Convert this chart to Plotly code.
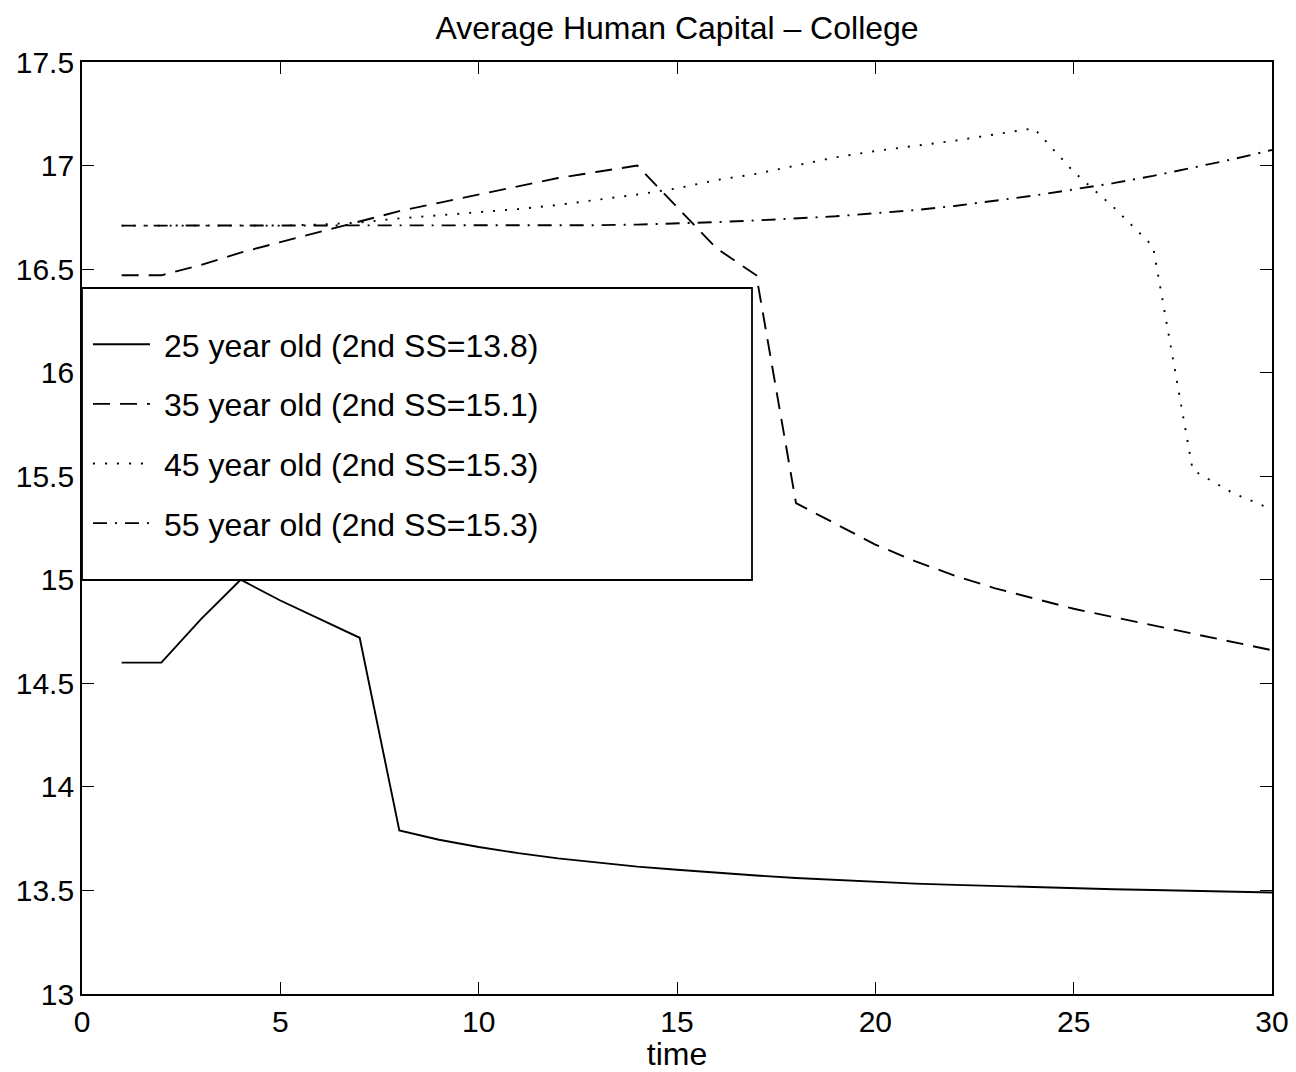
import plotly.graph_objects as go

time = list(range(1, 31))

age25 = [14.60, 14.60, 14.81, 15.00, 14.90, 14.81, 14.72, 13.79, 13.745, 13.71,
         13.68, 13.655, 13.635, 13.615, 13.60, 13.585, 13.572, 13.56, 13.55, 13.54,
         13.533, 13.527, 13.521, 13.516, 13.511, 13.506, 13.502, 13.498, 13.494, 13.49]

age35 = [16.47, 16.47, 16.52, 16.58, 16.63, 16.68, 16.73, 16.78, 16.82, 16.86,
         16.90, 16.94, 16.97, 17.00, 16.80, 16.60, 16.47, 15.37, 15.27, 15.17,
         15.09, 15.02, 14.96, 14.91, 14.86, 14.82, 14.78, 14.74, 14.70, 14.66]

age45 = [16.71, 16.71, 16.71, 16.71, 16.71, 16.715, 16.725, 16.745, 16.76, 16.775,
         16.79, 16.81, 16.835, 16.86, 16.89, 16.93, 16.96, 17.00, 17.04, 17.07,
         17.095, 17.12, 17.15, 17.18, 16.97, 16.80, 16.61, 15.53, 15.42, 15.34]

age55 = [16.71, 16.71, 16.71, 16.71, 16.71, 16.71, 16.71, 16.71, 16.71, 16.71,
         16.71, 16.71, 16.712, 16.715, 16.72, 16.727, 16.735, 16.745, 16.755, 16.77,
         16.785, 16.805, 16.83, 16.855, 16.885, 16.915, 16.95, 16.99, 17.03, 17.075]

names = ["25 year old (2nd SS=13.8)", "35 year old (2nd SS=15.1)",
         "45 year old (2nd SS=15.3)", "55 year old (2nd SS=15.3)"]
series = [age25, age35, age45, age55]
dashes = ["solid", "17px,10px", "2px,10px", "14px,8px,2px,8px"]

FONT = "Liberation Sans, Arial, Helvetica, sans-serif"

fig = go.Figure()
for i, (nm, ys, d) in enumerate(zip(names, series, dashes)):
    fig.add_trace(go.Scatter(
        x=time, y=ys, mode="lines", name="\u00a0" + nm, legendgroup=f"g{i}",
        line=dict(color="black", width=1.9, dash=d),
    ))

fig.add_shape(type="rect", xref="paper", yref="paper",
              x0=0, x1=(752 - 82) / 1190, y0=(994 - 580) / 932, y1=(994 - 288) / 932,
              fillcolor="white", line=dict(color="black", width=1.8), layer="above")

fig.update_layout(
    width=1296, height=1072,
    margin=dict(l=82, r=24, t=62, b=78, autoexpand=False),
    paper_bgcolor="white", plot_bgcolor="white",
    font=dict(family=FONT, size=30, color="black"),
    title=dict(text="Average Human Capital \u2013 College", x=0.5, xref="paper",
               xanchor="center", y=1 - 28 / 1072, yanchor="middle", font=dict(size=32)),
    xaxis=dict(range=[0, 30], tickvals=[0, 5, 10, 15, 20, 25, 30],
               ticks="inside", ticklen=12, tickwidth=1.2, tickcolor="black",
               showline=True, linecolor="black", linewidth=1.8, mirror="ticks",
               showgrid=False, zeroline=False, tickfont=dict(size=30), automargin=False,
               title=dict(text="time", standoff=4, font=dict(size=32))),
    yaxis=dict(range=[13, 17.5], tickvals=[13, 13.5, 14, 14.5, 15, 15.5, 16, 16.5, 17, 17.5],
               ticktext=["13", "13.5", "14", "14.5", "15", "15.5", "16", "16.5", "17", "17.5"],
               ticks="inside", ticklen=12, tickwidth=1.2, tickcolor="black",
               showline=True, linecolor="black", linewidth=1.8, mirror="ticks",
               showgrid=False, zeroline=False, tickfont=dict(size=30), automargin=False),
    legend=dict(x=6 / 1190, y=(994 - 317) / 932, xanchor="left", yanchor="top",
                bgcolor="rgba(0,0,0,0)", borderwidth=0,
                font=dict(size=32, family=FONT), tracegroupgap=15,
                itemwidth=57),
    showlegend=True,
)

fig.write_html("out.html")
